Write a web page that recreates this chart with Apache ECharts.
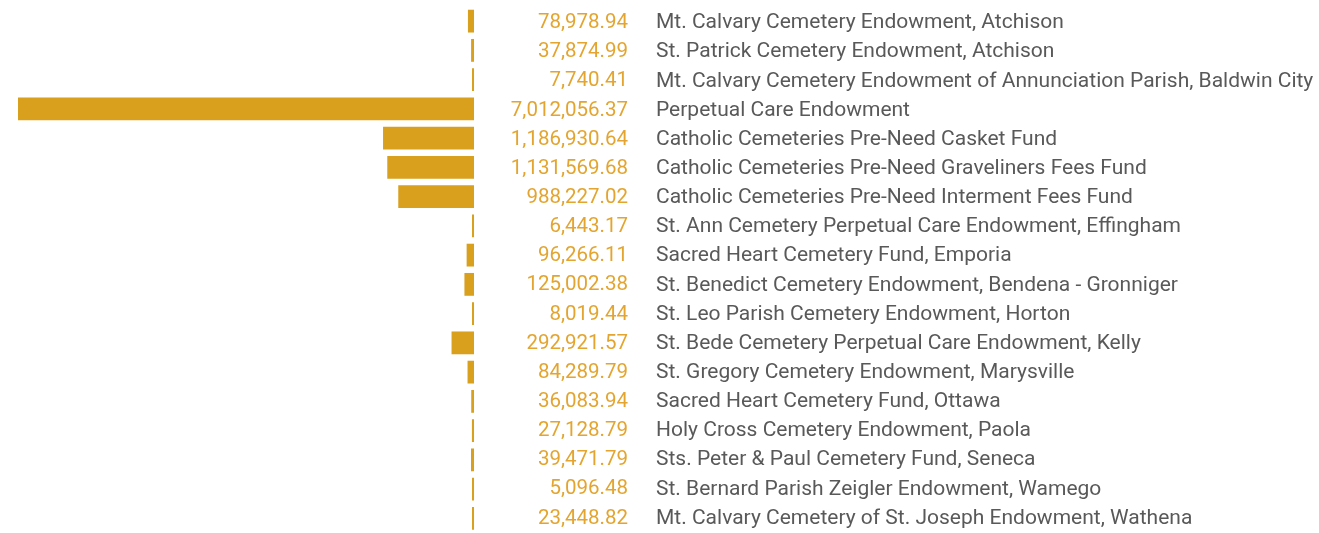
<!DOCTYPE html>
<html><head><meta charset="utf-8">
<script src="https://cdn.jsdelivr.net/npm/echarts@6/dist/echarts.min.js"></script>
<style>html,body{margin:0;padding:0;background:#fff}#c{width:1319px;height:533px}</style>
</head><body><div id="c"></div>
<script>
const categories = [
  "Mt. Calvary Cemetery Endowment, Atchison",
  "St. Patrick Cemetery Endowment, Atchison",
  "Mt. Calvary Cemetery Endowment of Annunciation Parish, Baldwin City",
  "Perpetual Care Endowment",
  "Catholic Cemeteries Pre-Need Casket Fund",
  "Catholic Cemeteries Pre-Need Graveliners Fees Fund",
  "Catholic Cemeteries Pre-Need Interment Fees Fund",
  "St. Ann Cemetery Perpetual Care Endowment, Effingham",
  "Sacred Heart Cemetery Fund, Emporia",
  "St. Benedict Cemetery Endowment, Bendena - Gronniger",
  "St. Leo Parish Cemetery Endowment, Horton",
  "St. Bede Cemetery Perpetual Care Endowment, Kelly",
  "St. Gregory Cemetery Endowment, Marysville",
  "Sacred Heart Cemetery Fund, Ottawa",
  "Holy Cross Cemetery Endowment, Paola",
  "Sts. Peter & Paul Cemetery Fund, Seneca",
  "St. Bernard Parish Zeigler Endowment, Wamego",
  "Mt. Calvary Cemetery of St. Joseph Endowment, Wathena"
];
const values = [78978.94, 37874.99, 7740.41, 7012056.37, 1186930.64, 1131569.68, 988227.02, 6443.17, 96266.11, 125002.38, 8019.44, 292921.57, 84289.79, 36083.94, 27128.79, 39471.79, 5096.48, 23448.82];
const valueLabels = values.map(v => v.toLocaleString('en-US', {minimumFractionDigits: 2, maximumFractionDigits: 2}));
// the largest bar runs past the axis end and is clipped at the grid edge
const axisMax = 5950000;

const chart = echarts.init(document.getElementById('c'), null, {renderer: 'canvas'});
chart.setOption({
  animation: false,
  grid: [
    {left: 18, right: 845, top: 6.5, bottom: -1.5, containLabel: false},
    {left: 18, right: 845, top: 8.5, bottom: -3.5, containLabel: false}
  ],
  xAxis: [
    {type: 'value', gridIndex: 0, inverse: true, min: 0, max: axisMax, show: false},
    {type: 'value', gridIndex: 1, inverse: true, min: 0, max: axisMax, show: false}
  ],
  yAxis: [
    {type: 'category', gridIndex: 0, data: categories, inverse: true, show: false},
    {type: 'category', gridIndex: 1, data: valueLabels, inverse: true, position: 'right',
     axisLine: {show: false}, axisTick: {show: false},
     axisLabel: {align: 'right', margin: 154, color: '#E3A530', fontSize: 20.5,
       fontFamily: 'Roboto, sans-serif'}},
    {type: 'category', gridIndex: 1, data: categories, inverse: true, position: 'right',
     axisLine: {show: false}, axisTick: {show: false},
     axisLabel: {align: 'left', margin: 182, color: '#595959', fontSize: 21,
       fontFamily: 'Roboto, sans-serif'}}
  ],
  series: [{
    type: 'bar', xAxisIndex: 0, yAxisIndex: 0, data: values, barCategoryGap: '22%', barMinHeight: 2, clip: true,
    itemStyle: {color: '#D9A01E'}
  }]
});
</script></body></html>
